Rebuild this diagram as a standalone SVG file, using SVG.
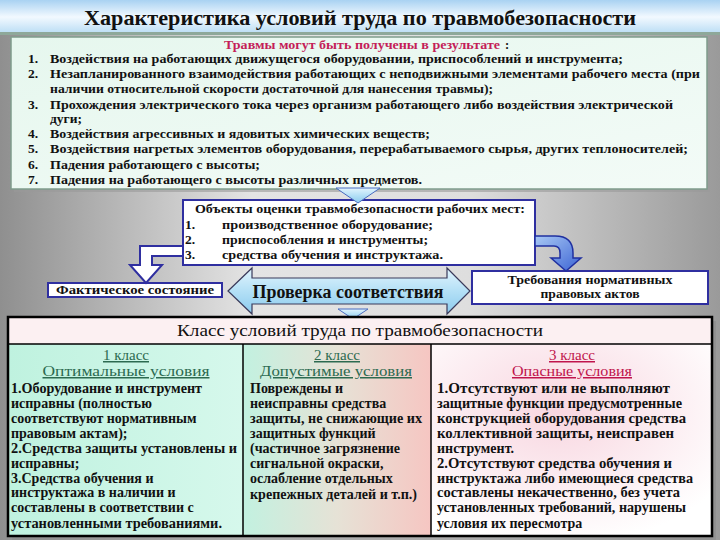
<svg xmlns="http://www.w3.org/2000/svg" width="720" height="540" viewBox="0 0 720 540">
<defs>
<style>
.t{font-family:"Liberation Serif","Times New Roman",serif;font-weight:bold;fill:#111}
.b13{font-size:13.5px}
.b135{font-size:14px}
.c{text-anchor:middle}
.u{text-decoration:underline}
.green{fill:#2c6a50;font-weight:normal}
.red{fill:#c0144c;font-weight:normal}
.box{fill:#fff;stroke:#2f2fa0;stroke-width:2}
</style>
<linearGradient id="bg" x1="0" y1="0" x2="1" y2="0">
<stop offset="0" stop-color="#8f8f8f"/>
<stop offset="0.35" stop-color="#e4e4e4"/>
<stop offset="0.65" stop-color="#dedede"/>
<stop offset="1" stop-color="#9a9a9a"/>
</linearGradient>
<linearGradient id="banner" x1="0" y1="0" x2="0" y2="1">
<stop offset="0" stop-color="#a9d2f2"/>
<stop offset="0.5" stop-color="#f2f9ff"/>
<stop offset="1" stop-color="#b8dcf4"/>
</linearGradient>
<linearGradient id="mint" x1="0" y1="0" x2="1" y2="1">
<stop offset="0" stop-color="#e6f7ee"/>
<stop offset="1" stop-color="#f3fbf7"/>
</linearGradient>
<linearGradient id="arrowfill" x1="0" y1="0" x2="0" y2="1">
<stop offset="0" stop-color="#e2f4fd"/>
<stop offset="0.5" stop-color="#b4e0f6"/>
<stop offset="1" stop-color="#8ccbee"/>
</linearGradient>
<linearGradient id="curvefill" x1="0" y1="0" x2="1" y2="1">
<stop offset="0" stop-color="#a8c8f4"/>
<stop offset="1" stop-color="#3c64d4"/>
</linearGradient>
<linearGradient id="col1" x1="0" y1="0" x2="1" y2="0">
<stop offset="0" stop-color="#bff2df"/>
<stop offset="1" stop-color="#d6f8ec"/>
</linearGradient>
<linearGradient id="col2" x1="0" y1="0" x2="1" y2="0">
<stop offset="0" stop-color="#c2f1e0"/>
<stop offset="0.5" stop-color="#e6e2d6"/>
<stop offset="1" stop-color="#f6c6c2"/>
</linearGradient>
<radialGradient id="col3" cx="0.45" cy="0.35" r="0.7">
<stop offset="0" stop-color="#f8d6e0"/>
<stop offset="1" stop-color="#ffffff"/>
</radialGradient>
</defs>

<rect x="0" y="0" width="720" height="540" fill="url(#bg)"/>
<rect x="0" y="0" width="720" height="34" fill="url(#banner)"/>
<rect x="0" y="32" width="720" height="3" fill="#8ea89a"/>
<text class="t c" x="360" y="25" font-size="21" textLength="552" lengthAdjust="spacingAndGlyphs">Характеристика условий труда по травмобезопасности</text>

<g id="injuries-box">
<rect x="14" y="40" width="696" height="152" fill="#9a9a9a" opacity="0.6"/>
<rect x="11" y="37" width="696" height="152" fill="url(#mint)" stroke="#7f9c8c" stroke-width="1.5"/>
<text class="t" x="224" y="48.5" font-size="12.5" style="fill:#c41e58" textLength="276" lengthAdjust="spacingAndGlyphs">Травмы могут быть получены в результате</text>
<text class="t" x="505" y="48.5" font-size="12.5">:</text>
<g class="t b13">
<text x="28" y="63">1.</text>
<text x="50" y="63" textLength="573" lengthAdjust="spacingAndGlyphs">Воздействия на работающих движущегося оборудовании, приспособлений и инструмента;</text>
<text x="28" y="78">2.</text>
<text x="50" y="78" textLength="650" lengthAdjust="spacingAndGlyphs">Незапланированного взаимодействия  работающих с неподвижными элементами рабочего места (при</text>
<text x="50" y="93" textLength="443" lengthAdjust="spacingAndGlyphs">наличии относительной скорости достаточной для нанесения травмы);</text>
<text x="28" y="109">3.</text>
<text x="50" y="109" textLength="623" lengthAdjust="spacingAndGlyphs">Прохождения электрического тока через организм работающего либо воздействия электрической</text>
<text x="50" y="123">дуги;</text>
<text x="28" y="138">4.</text>
<text x="50" y="138" textLength="380" lengthAdjust="spacingAndGlyphs">Воздействия агрессивных и ядовитых химических веществ;</text>
<text x="28" y="153">5.</text>
<text x="50" y="153" textLength="638" lengthAdjust="spacingAndGlyphs">Воздействия нагретых элементов оборудования, перерабатываемого сырья, других теплоносителей;</text>
<text x="28" y="169">6.</text>
<text x="50" y="169" textLength="210" lengthAdjust="spacingAndGlyphs">Падения работающего с высоты;</text>
<text x="28" y="184">7.</text>
<text x="50" y="184" textLength="372" lengthAdjust="spacingAndGlyphs">Падения на работающего с высоты различных предметов.</text>
</g>
</g>

<g id="objects-box">
<rect class="box" x="183" y="200" width="352" height="65"/>
<g class="t b13">
<text x="195" y="213" textLength="330" lengthAdjust="spacingAndGlyphs">Объекты оценки травмобезопасности рабочих мест:</text>
<text x="185" y="229">1.</text>
<text x="222" y="229" textLength="211" lengthAdjust="spacingAndGlyphs">производственное оборудование;</text>
<text x="185" y="244">2.</text>
<text x="222" y="244" textLength="206" lengthAdjust="spacingAndGlyphs">приспособления и инструменты;</text>
<text x="185" y="259">3.</text>
<text x="222" y="259" textLength="221" lengthAdjust="spacingAndGlyphs">средства обучения и инструктажа.</text>
</g>
</g>

<g id="fact-box">
<rect class="box" x="48" y="283" width="174" height="14"/>
<text class="t c" x="135" y="294" font-size="11.5" textLength="158" lengthAdjust="spacingAndGlyphs">Фактическое состояние</text>
</g>

<g id="req-box">
<rect class="box" x="472" y="271" width="236" height="33"/>
<text class="t c" x="590" y="284" font-size="13" textLength="165" lengthAdjust="spacingAndGlyphs">Требования нормативных</text>
<text class="t c" x="590" y="298" font-size="13" textLength="99" lengthAdjust="spacingAndGlyphs">правовых актов</text>
</g>

<g id="connectors">
<path d="M336,188 L380,188 L358,203 Z" fill="url(#arrowfill)" stroke="#4a6cc0" stroke-width="1"/>
<path d="M183,246 L140,246 L140,265 L130,265 L146,283 L162,265 L152,265 L152,256 L183,256 Z" fill="#fff" stroke="#2f2fa0" stroke-width="2" stroke-linejoin="miter"/>
<path d="M535,236 L555,236 Q573,236 573,253 L573,258 L581,258 L566,271 L551,258 L560,258 L560,253 Q560,246 554,246 L535,246 Z" fill="url(#curvefill)" stroke="#2030a0" stroke-width="1.5"/>
<path d="M338,309 L368,309 L353,319 Z" fill="url(#arrowfill)" stroke="#4a6cc0" stroke-width="1"/>
</g>

<g id="check-arrow">
<path d="M228,291 L252,268 L252,278 L447,278 L447,268 L470,291 L447,314 L447,304 L252,304 L252,314 Z" fill="url(#arrowfill)" stroke="#3a3a5a" stroke-width="1.2"/>
<text class="t c" x="348" y="298" font-size="18" textLength="191" lengthAdjust="spacingAndGlyphs">Проверка соответствия</text>
</g>

<g id="class-table">
<rect x="12" y="321" width="704" height="219" fill="#8a8a8a" opacity="0.6"/>
<rect x="8" y="317" width="704" height="27" fill="#fcf0f2"/>
<rect x="8" y="344" width="235" height="192" fill="url(#col1)"/>
<rect x="243" y="344" width="188" height="192" fill="url(#col2)"/>
<rect x="431" y="344" width="281" height="192" fill="url(#col3)"/>
<rect x="8" y="317" width="704" height="219" fill="none" stroke="#000" stroke-width="2.5"/>
<line x1="8" y1="344" x2="712" y2="344" stroke="#000" stroke-width="1.5"/>
<line x1="243" y1="344" x2="243" y2="536" stroke="#000" stroke-width="1.5"/>
<line x1="431" y1="344" x2="431" y2="536" stroke="#000" stroke-width="1.5"/>
<text class="t c" x="360" y="336" font-size="17" style="font-weight:normal" textLength="366" lengthAdjust="spacingAndGlyphs">Класс условий труда по травмобезопасности</text>

<g id="class-1">
<text class="t c u green" x="126" y="360" font-size="15">1 класс</text>
<text class="t c u green" x="126" y="376" font-size="15" textLength="167" lengthAdjust="spacingAndGlyphs">Оптимальные условия</text>
<g class="t b135">
<text x="11" y="393" textLength="191" lengthAdjust="spacingAndGlyphs">1.Оборудование и инструмент</text>
<text x="11" y="408">исправны (полностью</text>
<text x="11" y="423">соответствуют нормативным</text>
<text x="11" y="438">правовым актам);</text>
<text x="11" y="453" textLength="226" lengthAdjust="spacingAndGlyphs">2.Средства защиты установлены и</text>
<text x="11" y="468">исправны;</text>
<text x="11" y="483">3.Средства обучения и</text>
<text x="11" y="497">инструктажа в наличии и</text>
<text x="11" y="512">составлены в соответствии с</text>
<text x="11" y="528" textLength="211" lengthAdjust="spacingAndGlyphs">установленными требованиями.</text>
</g>
</g>

<g id="class-2">
<text class="t c u green" x="337" y="360" font-size="15">2 класс</text>
<text class="t c u green" x="336" y="376" font-size="15" textLength="152" lengthAdjust="spacingAndGlyphs">Допустимые условия</text>
<g class="t b135">
<text x="250" y="393">Повреждены и</text>
<text x="250" y="408">неисправны средства</text>
<text x="250" y="423" textLength="172" lengthAdjust="spacingAndGlyphs">защиты, не снижающие их</text>
<text x="250" y="438">защитных функций</text>
<text x="250" y="453">(частичное загрязнение</text>
<text x="250" y="468">сигнальной окраски,</text>
<text x="250" y="483">ослабление отдельных</text>
<text x="250" y="499" textLength="167" lengthAdjust="spacingAndGlyphs">крепежных деталей и т.п.)</text>
</g>
</g>

<g id="class-3">
<text class="t c u red" x="572" y="360" font-size="15">3 класс</text>
<text class="t c u red" x="572" y="376" font-size="15" textLength="120" lengthAdjust="spacingAndGlyphs">Опасные условия</text>
<g class="t b135">
<text x="437" y="393" textLength="233" lengthAdjust="spacingAndGlyphs">1.Отсутствуют или не выполняют</text>
<text x="437" y="408" textLength="245" lengthAdjust="spacingAndGlyphs">защитные функции предусмотренные</text>
<text x="437" y="423" textLength="249" lengthAdjust="spacingAndGlyphs">конструкцией оборудования средства</text>
<text x="437" y="438" textLength="237" lengthAdjust="spacingAndGlyphs">коллективной защиты, неисправен</text>
<text x="437" y="453">инструмент.</text>
<text x="437" y="468" textLength="235" lengthAdjust="spacingAndGlyphs">2.Отсутствуют средства обучения и</text>
<text x="437" y="483" textLength="256" lengthAdjust="spacingAndGlyphs">инструктажа либо имеющиеся средства</text>
<text x="437" y="497" textLength="243" lengthAdjust="spacingAndGlyphs">составлены некачественно, без учета</text>
<text x="437" y="512" textLength="249" lengthAdjust="spacingAndGlyphs">установленных  требований, нарушены</text>
<text x="437" y="528">условия их пересмотра</text>
</g>
</g>
</g>
</svg>
